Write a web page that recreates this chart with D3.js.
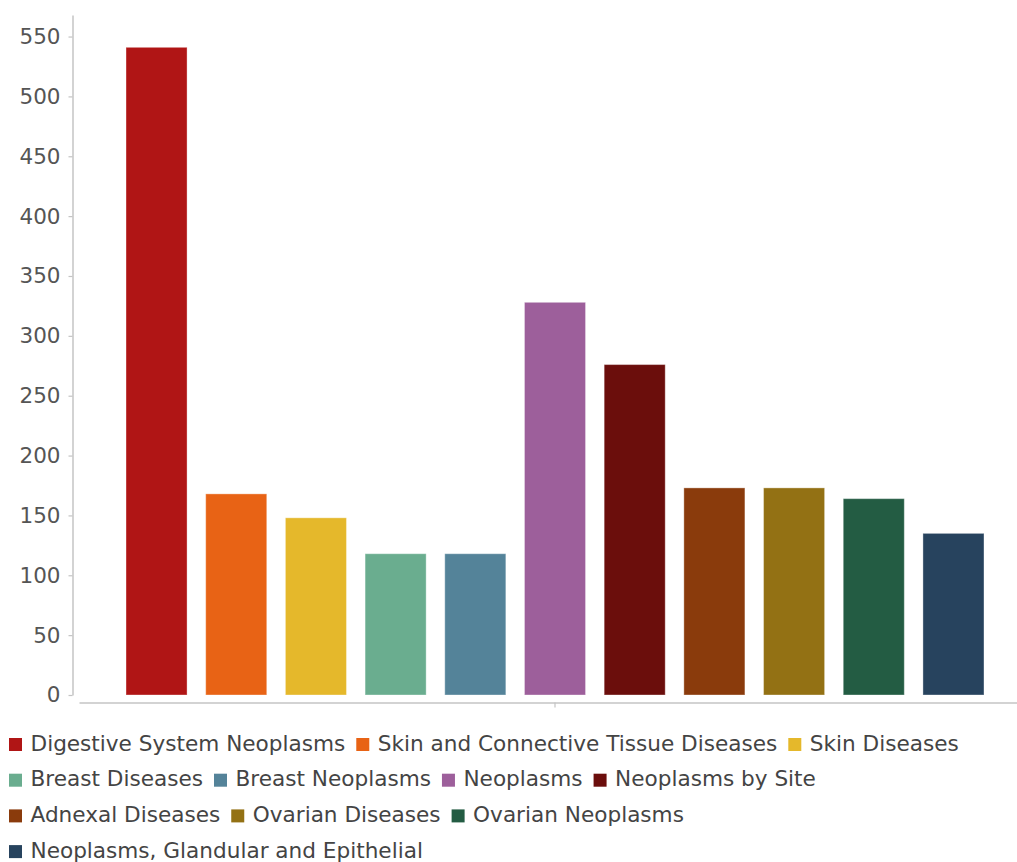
<!DOCTYPE html>
<html>
<head>
<meta charset="utf-8">
<script src="https://cdn.jsdelivr.net/npm/d3@7"></script>
<style>
  html, body { margin: 0; padding: 0; background: #fff; }
  svg { display: block; font-family: "DejaVu Sans", sans-serif; }
</style>
</head>
<body>
<svg id="chart" width="1017" height="862"></svg>
<script>
// Series shown as bars, one bar per disease term
const seriesNames = [
  "Digestive System Neoplasms",
  "Skin and Connective Tissue Diseases",
  "Skin Diseases",
  "Breast Diseases",
  "Breast Neoplasms",
  "Neoplasms",
  "Neoplasms by Site",
  "Adnexal Diseases",
  "Ovarian Diseases",
  "Ovarian Neoplasms",
  "Neoplasms, Glandular and Epithelial"
];
const seriesValues = [541, 168, 148, 118, 118, 328, 276, 173, 173, 164, 135];
const seriesColors = [
  "#b01515", "#e86315", "#e5b82b", "#6aad8f", "#548399", "#9d5f9b",
  "#6b0e0c", "#8a3b0c", "#937114", "#235c43", "#27435e"
];
const groups = [""];
const yTicks = [0, 50, 100, 150, 200, 250, 300, 350, 400, 450, 500, 550];

const svg = d3.select("#chart");

const y = d3.scaleLinear().domain([0, 568]).range([695, 15]);
const xGroup = d3.scaleBand().domain(groups).range([79, 1031]);
const xSeries = d3.scaleBand()
  .domain(seriesNames)
  .range([0, xGroup.bandwidth()])
  .paddingInner(0.234)
  .paddingOuter(0.59);

// Y axis
const yAxis = svg.append("g")
  .attr("transform", "translate(72.5,0)")
  .call(d3.axisLeft(y).tickValues(yTicks).tickSize(4).tickPadding(8).tickSizeOuter(0));
yAxis.select(".domain").attr("stroke", "#c4c4c4").attr("stroke-width", 1.5);
yAxis.selectAll(".tick line").attr("stroke", "#c4c4c4").attr("stroke-width", 1.2);
yAxis.selectAll(".tick text")
  .attr("fill", "#555")
  .style("font-size", "21.5px")
  .style("font-family", "'DejaVu Sans', sans-serif");

// X axis (single group, unlabeled)
const xAxis = svg.append("g")
  .attr("transform", "translate(0,702.5)")
  .call(d3.axisBottom(xGroup).tickSize(5).tickSizeOuter(0));
xAxis.select(".domain").attr("stroke", "#c4c4c4").attr("stroke-width", 1.5);
xAxis.selectAll(".tick line").attr("stroke", "#c4c4c4").attr("stroke-width", 1.2);
xAxis.selectAll(".tick text").remove();

// Bars
const gBars = svg.append("g").attr("transform", `translate(${xGroup(groups[0])},0)`);
gBars.selectAll("rect")
  .data(seriesNames.map((name, i) => ({ name, value: seriesValues[i], color: seriesColors[i] })))
  .join("rect")
  .attr("x", d => xSeries(d.name))
  .attr("width", xSeries.bandwidth())
  .attr("y", d => y(d.value))
  .attr("height", d => y(0) - y(d.value))
  .attr("fill", d => d.color)
  .attr("stroke", "rgba(255,255,255,0.35)")
  .attr("stroke-width", 1);

// Legend: flowing rows of swatch + label
const legend = svg.append("g");
const fontSize = 21.6;
const rowHeight = 35.7;
const startX = 9, firstBaseline = 750.5, maxX = 1012;
let cx = startX, baseline = firstBaseline;
seriesNames.forEach((name, i) => {
  const item = legend.append("g");
  const label = item.append("text")
    .attr("x", 21.5)
    .attr("y", 0)
    .attr("fill", "#444")
    .style("font-size", fontSize + "px")
    .text(name);
  const w = 21.5 + label.node().getComputedTextLength();
  if (cx + w > maxX && cx > startX) {
    cx = startX;
    baseline += rowHeight;
  }
  item.insert("rect", "text")
    .attr("x", 0)
    .attr("y", -12.5)
    .attr("width", 13)
    .attr("height", 13)
    .attr("fill", seriesColors[i]);
  item.attr("transform", `translate(${cx},${baseline})`);
  cx += w + 11;
});
</script>
</body>
</html>
